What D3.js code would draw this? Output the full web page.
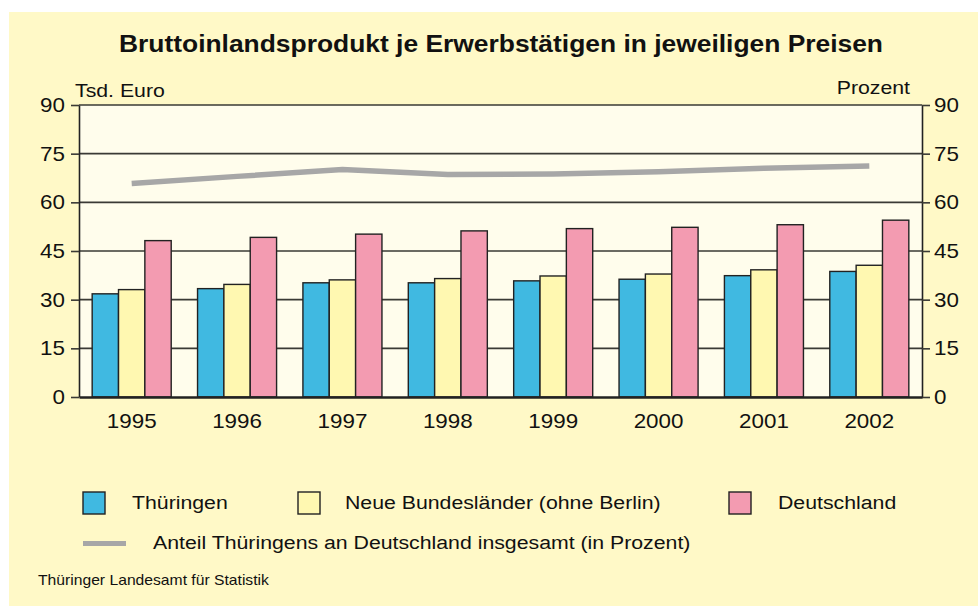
<!DOCTYPE html>
<html><head><meta charset="utf-8">
<script src="https://cdn.jsdelivr.net/npm/d3@7"></script>
<style>body{margin:0;background:#fff;}svg{display:block;font-family:"Liberation Sans",Arial,sans-serif;}</style>
</head><body>
<svg id="c" width="978" height="606"></svg>
<script>
const years = ["1995","1996","1997","1998","1999","2000","2001","2002"];
const thueringen = [31.8,33.4,35.2,35.2,35.8,36.3,37.4,38.7];
const neueLaender = [33.1,34.7,36.1,36.5,37.3,37.9,39.2,40.6];
const deutschland = [48.2,49.2,50.2,51.2,51.9,52.3,53.1,54.5];
const anteil = [65.8,68.0,70.1,68.6,68.7,69.4,70.5,71.2];
const yTicks = [0,15,30,45,60,75,90];
const seriesNames = ["Thüringen","Neue Bundesländer (ohne Berlin)","Deutschland"];
const lineName = "Anteil Thüringens an Deutschland insgesamt (in Prozent)";
const colors = ["#40b9e1","#fff8b1","#f39bb1"];

const svg = d3.select("#c");
svg.append("rect").attr("x",9).attr("y",12).attr("width",969).attr("height",594).attr("fill","#fff9c7");

const L=79,R=922,T=105,B=397;
svg.append("rect").attr("x",L).attr("y",T).attr("width",R-L).attr("height",B-T).attr("fill","#fffdec");

const x = d3.scaleBand().domain(years).range([L,R]).paddingInner(0.25).paddingOuter(0.125);
const xs = d3.scaleBand().domain([0,1,2]).range([0,x.bandwidth()]);
const y = d3.scaleLinear().domain([0,90]).range([B,T]);

function txt(px,py,str,size,anchor,weight,sx){
  return svg.append("text").attr("transform",`translate(${px},${py}) scale(${sx||1.12},1)`)
    .attr("font-size",size).attr("text-anchor",anchor||"start").attr("font-weight",weight||"normal")
    .attr("fill","#111").text(str);
}

// gridlines
svg.append("g").selectAll("line").data(yTicks.filter(d=>d>0)).join("line")
  .attr("x1",L).attr("x2",R).attr("y1",d=>y(d)).attr("y2",d=>y(d))
  .attr("stroke","#3a3a35").attr("stroke-width",1.6);

// bars
const data = [thueringen,neueLaender,deutschland];
years.forEach((yr,i)=>{
  data.forEach((s,j)=>{
    svg.append("rect").attr("x",x(yr)+xs(j)).attr("y",y(s[i]))
      .attr("width",xs.bandwidth()).attr("height",y(0)-y(s[i]))
      .attr("fill",colors[j]).attr("stroke","#222").attr("stroke-width",1.4);
  });
});

// line
const line = d3.line().x((d,i)=>x(years[i])+x.bandwidth()/2).y(d=>y(d));
svg.append("path").datum(anteil).attr("d",line).attr("fill","none")
  .attr("stroke","#a7a7a7").attr("stroke-width",5.5);

// axes (lines via d3 axis, labels scaled)
const ax = g=>g.call(s=>s.select(".domain").attr("stroke","#222").attr("stroke-width",1.6))
  .call(s=>s.selectAll(".tick line").attr("stroke","#3a3a35").attr("stroke-width",1.6))
  .call(s=>s.selectAll(".tick text").remove());
svg.append("g").attr("transform",`translate(${L},0)`)
  .call(d3.axisLeft(y).tickValues(yTicks).tickSize(8).tickSizeOuter(0)).call(ax);
svg.append("g").attr("transform",`translate(${R},0)`)
  .call(d3.axisRight(y).tickValues(yTicks).tickSize(8).tickSizeOuter(0)).call(ax);
svg.append("g").attr("transform",`translate(0,${B})`)
  .call(d3.axisBottom(x).tickSize(0)).call(ax)
  .call(s=>s.select(".domain").attr("stroke-width",2.5));
yTicks.forEach(v=>{
  txt(65,y(v)+7,String(v),20,"end");
  txt(934,y(v)+7,String(v),20,"start");
});
years.forEach(yr=>txt(x(yr)+x.bandwidth()/2,428,yr,20,"middle"));

// titles
txt(501,52,"Bruttoinlandsprodukt je Erwerbstätigen in jeweiligen Preisen",24,"middle","bold",1.1);
txt(75,97,"Tsd. Euro",19,"start");
txt(910,94,"Prozent",19,"end");

// legend
const lx=[83,298,729], tx=[132,345,778];
seriesNames.forEach((n,j)=>{
  svg.append("rect").attr("x",lx[j]).attr("y",492).attr("width",22).attr("height",22)
    .attr("fill",colors[j]).attr("stroke","#222").attr("stroke-width",1.4);
  txt(tx[j],509,n,19,"start");
});
svg.append("line").attr("x1",83).attr("x2",126).attr("y1",543.5).attr("y2",543.5)
  .attr("stroke","#a7a7a7").attr("stroke-width",5);
txt(153,549,lineName,19,"start");

txt(38,585,"Thüringer Landesamt für Statistik",14,"start");
</script>
</body></html>
